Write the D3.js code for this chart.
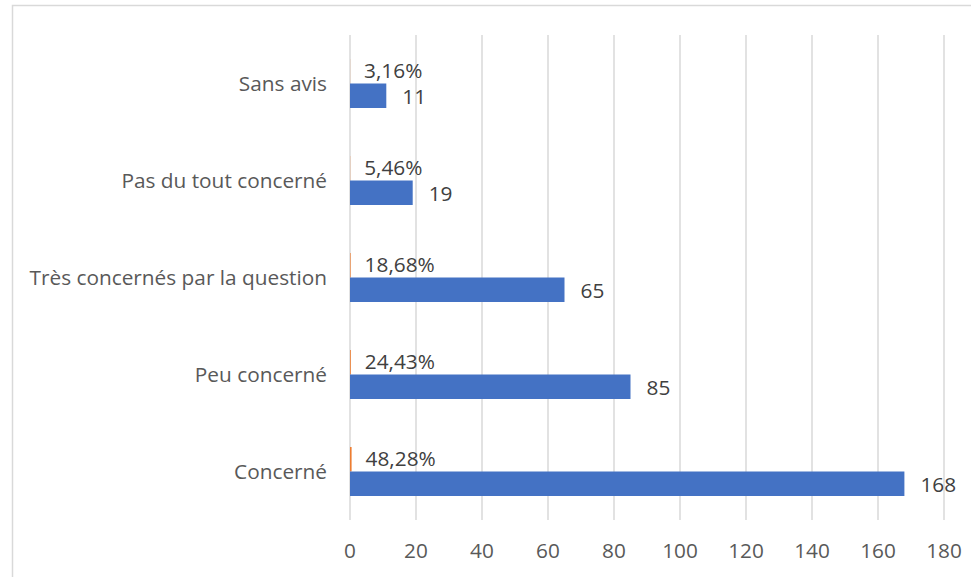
<!DOCTYPE html>
<html><head><meta charset="utf-8">
<script src="https://cdn.jsdelivr.net/npm/d3@7"></script>
<style>body{margin:0;background:#fff}svg{display:block}</style>
</head><body><svg id="c" width="971" height="577"></svg>
<script>
const categories = ["Sans avis","Pas du tout concerné","Très concernés par la question","Peu concerné","Concerné"];
const counts = [11,19,65,85,168];
const shares = [0.0316,0.0546,0.1868,0.2443,0.4828];
const shareLabels = ["3,16%","5,46%","18,68%","24,43%","48,28%"];
const ticks = [0,20,40,60,80,100,120,140,160,180];

const svg = d3.select("#c");
const font = "'Open Sans', sans-serif";
const fs = 20.8;
svg.append("rect").attr("x",12.5).attr("y",5.5).attr("width",1000).attr("height",600)
  .attr("fill","#fff").attr("stroke","#d9d9d9").attr("stroke-width",1.5);

const x = d3.scaleLinear().domain([0,180]).range([350,944]);
const y = d3.scaleBand().domain(categories).range([35,520]);
const bh = 24.5;

svg.append("g").selectAll("line").data(ticks).join("line")
  .attr("x1",d=>x(d)).attr("x2",d=>x(d)).attr("y1",35).attr("y2",520)
  .attr("stroke","#d9d9d9").attr("stroke-width",1.5);

svg.append("g").selectAll("text").data(ticks).join("text")
  .attr("x",d=>x(d)).attr("y",551).attr("dy","0.35em").attr("text-anchor","middle")
  .attr("font-family",font).attr("font-size",fs).attr("fill","#595959").text(d=>d);

svg.append("g").selectAll("text").data(categories).join("text")
  .attr("x",327).attr("y",d=>y(d)+y.bandwidth()/2).attr("dy","0.35em").attr("text-anchor","end")
  .attr("font-family",font).attr("font-size",fs).attr("fill","#595959").text(d=>d);

// share series (tiny bars)
svg.append("g").selectAll("rect").data(categories).join("rect")
  .attr("x",x(0)).attr("y",d=>y(d)+y.bandwidth()/2-bh)
  .attr("width",(d,i)=>x(shares[i])-x(0)).attr("height",bh).attr("fill","#ED7D31");
// count bars
svg.append("g").selectAll("rect").data(categories).join("rect")
  .attr("x",x(0)).attr("y",d=>y(d)+y.bandwidth()/2)
  .attr("width",(d,i)=>x(counts[i])-x(0)).attr("height",bh).attr("fill","#4472C4");

svg.append("g").selectAll("text").data(categories).join("text")
  .attr("x",(d,i)=>x(shares[i])+14).attr("y",d=>y(d)+y.bandwidth()/2-bh/2-1).attr("dy","0.35em")
  .attr("font-family",font).attr("font-size",fs).attr("fill","#404040").text((d,i)=>shareLabels[i]);
svg.append("g").selectAll("text").data(categories).join("text")
  .attr("x",(d,i)=>x(counts[i])+16).attr("y",d=>y(d)+y.bandwidth()/2+bh/2+1).attr("dy","0.35em")
  .attr("font-family",font).attr("font-size",fs).attr("fill","#404040").text((d,i)=>counts[i]);
</script></body></html>
